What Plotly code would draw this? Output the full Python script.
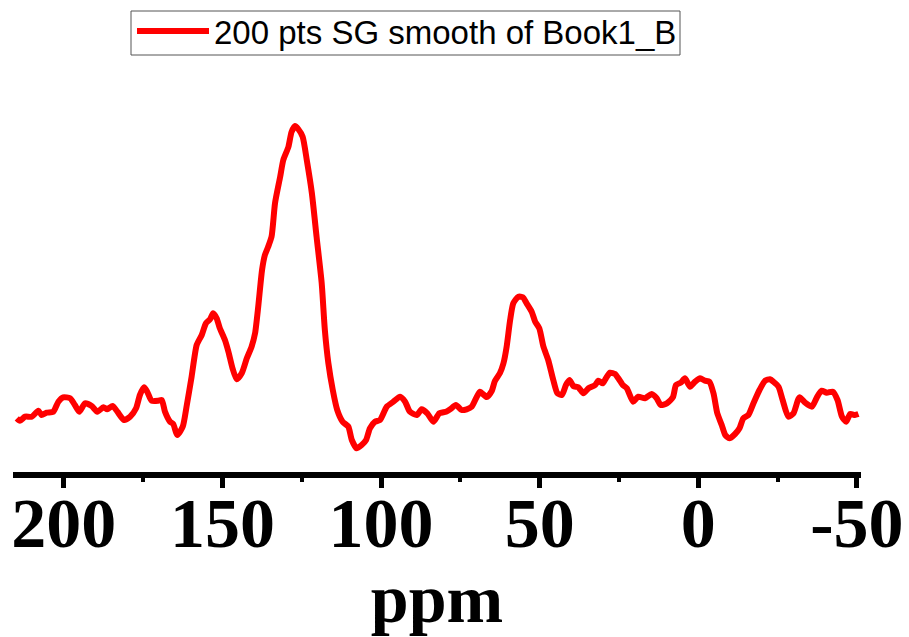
import plotly.graph_objects as go

ppm = [214.8, 213.8, 212.2, 210.1, 208.0, 207.0, 205.4, 203.3, 201.7, 200.2, 198.0, 196.5, 195.1, 193.3,
       191.2, 189.4, 187.5, 186.3, 184.6, 183.1, 181.0, 179.1, 177.2, 176.0, 174.7, 173.7, 172.3, 170.2,
       169.1, 168.1, 166.5, 165.5, 164.2, 162.5, 161.3, 159.7, 158.1, 156.5, 155.2, 153.9, 152.9, 151.8,
       150.8, 149.2, 148.1, 146.8, 145.5, 143.9, 142.3, 140.8, 139.7, 138.7, 137.5, 136.6, 135.6, 134.5,
       133.4, 131.8, 130.8, 129.2, 128.2, 127.1, 126.1, 124.7, 123.4, 121.8, 120.3, 118.7, 117.7, 116.6,
       115.2, 113.8, 112.1, 110.3, 109.2, 107.7, 106.1, 104.7, 103.5, 101.9, 100.3, 98.2, 96.1, 94.0,
       92.4, 90.9, 88.7, 87.2, 85.4, 83.5, 81.6, 79.5, 78.2, 76.4, 74.6, 73.0, 71.4, 69.8, 68.8, 66.7,
       65.1, 64.1, 62.5, 61.4, 60.4, 59.3, 58.3, 56.7, 55.3, 54.1, 52.5, 51.4, 50.1, 48.8, 47.3, 45.7,
       44.4, 43.0, 41.7, 40.6, 39.4, 37.8, 36.2, 34.6, 32.5, 31.5, 30.1, 29.1, 27.8, 26.2, 25.2, 23.8,
       22.5, 20.5, 18.9, 16.8, 14.7, 13.1, 11.8, 9.9, 8.0, 7.0, 5.5, 4.2, 2.6, 1.0, -0.6, -2.1, -3.5,
       -4.8, -6.0, -7.4, -8.5, -9.8, -11.6, -13.0, -14.2, -15.8, -17.4, -19.3, -21.1, -22.6, -23.7,
       -25.3, -26.6, -28.4, -30.0, -31.9, -33.7, -35.8, -37.4, -38.9, -40.5, -42.4, -43.9, -45.3,
       -46.6, -47.9, -49.4, -50.5]

intensity = [31.7, 29.3, 33.3, 33.3, 39.3, 35, 37.3, 38.3, 48.3, 52.7, 51.7, 45, 38.3, 46.7,
             44, 38.3, 42.7, 40.7, 44, 38.3, 30, 33.3, 41.7, 55, 62.7, 58.3, 49.3, 49.3,
             50, 38.3, 28.3, 26, 15, 23.3, 43.3, 73.3, 105, 115, 126.7, 130.7, 136.7, 131.7,
             121.7, 110, 98.3, 81.7, 70.7, 76.7, 91.7, 103.3, 116.7, 143.3, 180, 195, 203, 213.3,
             247, 273, 290, 303, 318, 324, 321, 313.3, 290, 257, 213, 167, 120, 87,
             60, 40, 28.3, 23.3, 10, 1.7, 5, 10, 21.7, 28.3, 30, 43.3, 48.3, 53.3,
             48.3, 38.3, 35, 40.7, 36.7, 28.3, 36.7, 38.3, 40.7, 45, 40, 40.7, 43.3, 53.3, 58.3, 53,
             59, 69, 77, 86.7, 103.3, 130, 146.7, 153.3, 152.7, 146.7, 138.3, 128.3, 121.7, 103.3, 90, 70,
             56.7, 55, 65, 70, 64, 62.7, 56.7, 61.7, 65, 69.3, 66.7, 71.7, 77.3, 76, 71.7, 65,
             61.7, 48.3, 53.3, 51.7, 56, 51.7, 45, 46.7, 52.7, 65, 67.3, 71.7, 63.3, 68.3, 71.7, 69.3, 68.3,
             56.7, 36.7, 25, 15, 11.7, 16, 21.7, 31.7, 35, 46.7, 60, 69.3, 70.7, 68.3,
             63.3, 50, 33.3, 36.7, 52.7, 47.3, 43.3, 52.7, 59.3, 57.3, 58.3, 50, 33.3,
             28.3, 36, 35, 36]

tick_vals = [200, 150, 100, 50, 0, -50]
tick_text = ["200", "150", "100", "50", "0", "-50"]
series_name = "200 pts SG smooth of Book1_B"
x_title = "ppm"

fig = go.Figure()
fig.add_trace(go.Scatter(
    x=ppm, y=intensity, mode="lines", name=series_name,
    line=dict(color="#ff0000", width=6, shape="spline", smoothing=0.6),
    showlegend=True,
))

# legend frame (drawn as a shape so its height matches the original)
fig.add_shape(type="rect", xref="paper", yref="paper",
              x0=(131 - 13) / 848, x1=(680 - 13) / 848,
              y0=(472 - 55) / 392, y1=(472 - 11) / 392,
              line=dict(color="#555555", width=1), fillcolor="rgba(0,0,0,0)", layer="above")

fig.update_layout(
    width=909, height=637,
    margin=dict(l=13, r=48, t=80, b=165, autoexpand=False),
    paper_bgcolor="white", plot_bgcolor="white",
    showlegend=True,
    legend=dict(
        xref="container", yref="container",
        x=132 / 909, y=1 - 3 / 637, xanchor="left", yanchor="top",
        borderwidth=0, bgcolor="rgba(0,0,0,0)",
        font=dict(family="Liberation Sans, Arial", size=33, color="black"),
        itemwidth=72, tracegroupgap=0,
    ),
    xaxis=dict(
        range=[216.0, -51.3], showgrid=False, zeroline=False, automargin=True,
        showline=True, linecolor="black", linewidth=6,
        ticks="outside", ticklen=10, tickwidth=5, tickcolor="black",
        tickvals=tick_vals, ticktext=tick_text, tickangle=0, ticklabelstandoff=-25,
        tickfont=dict(family="Liberation Serif, Times New Roman", size=70, color="black", weight="bold"),
        minor=dict(ticks="outside", ticklen=4, tickwidth=4, tickcolor="black", dtick=25, tick0=0, showgrid=False),
        title=dict(text=x_title, standoff=6,
                   font=dict(family="Liberation Serif, Times New Roman", size=68, color="black", weight="bold")),
    ),
    yaxis=dict(visible=False, range=[-22, 370], showgrid=False, zeroline=False, automargin=False),
)

fig.write_html("out.html")
